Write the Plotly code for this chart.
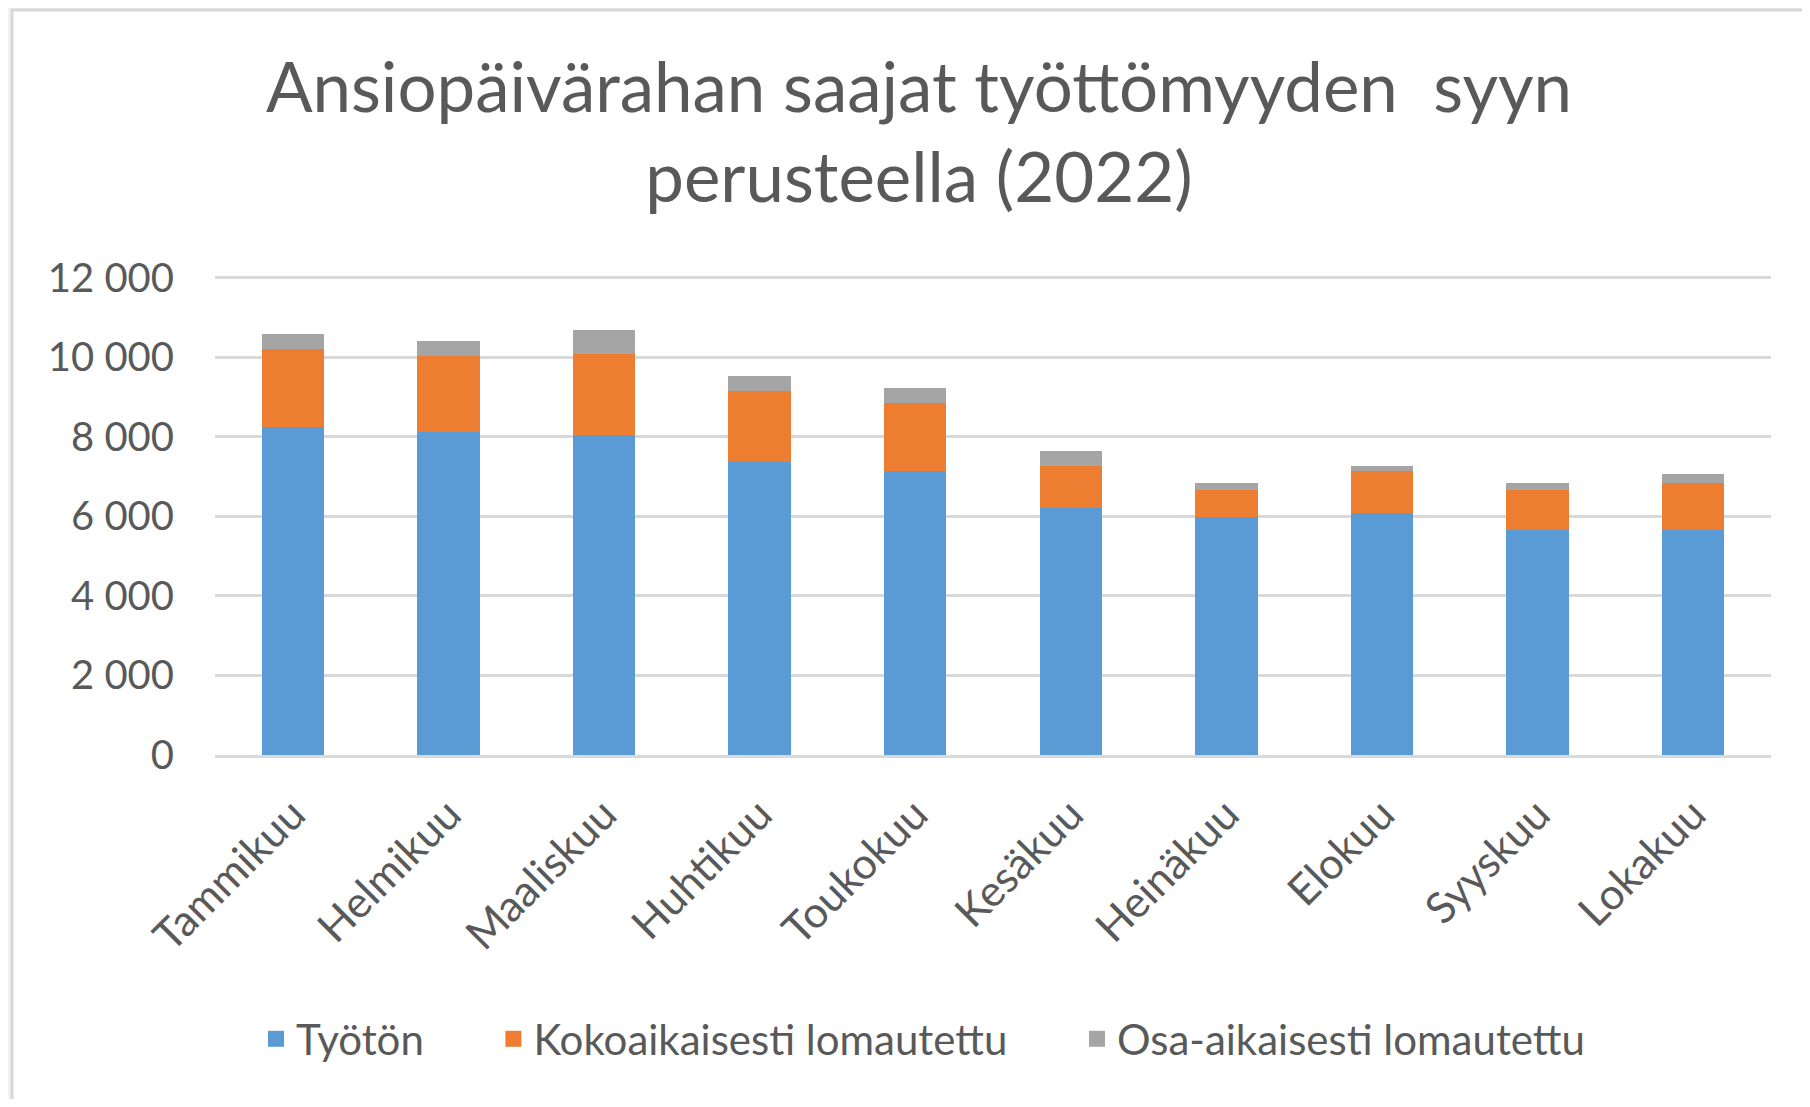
import plotly.graph_objects as go

months = ["Tammikuu", "Helmikuu", "Maaliskuu", "Huhtikuu", "Toukokuu",
          "Kesäkuu", "Heinäkuu", "Elokuu", "Syyskuu", "Lokakuu"]
tyoton = [8240, 8110, 8050, 7370, 7130, 6210, 5970, 6080, 5660, 5660]
kokoaikaisesti = [1970, 1920, 2040, 1790, 1720, 1050, 680, 1060, 990, 1170]
osa_aikaisesti = [370, 370, 600, 370, 380, 370, 180, 120, 180, 230]

series_names = ["Työtön", "Kokoaikaisesti lomautettu", "Osa-aikaisesti lomautettu"]
series_colors = ["#5B9BD5", "#ED7D31", "#A5A5A5"]
y_ticks = [0, 2000, 4000, 6000, 8000, 10000, 12000]

title_text = "Ansiopäivärahan saajat työttömyyden  syyn<br>perusteella (2022)"

FONT = "Lato, 'Open Sans', sans-serif"
TXT = "#595959"
PAD = "\u00a0" * 6  # extra spacing between legend entries

fig = go.Figure()
for i, (name, vals, col) in enumerate(zip(series_names,
                                          [tyoton, kokoaikaisesti, osa_aikaisesti],
                                          series_colors)):
    fig.add_trace(go.Bar(x=months, y=vals, name=name, legendgroup=name,
                         showlegend=False,
                         marker=dict(color=col, line=dict(width=0))))
for i, (name, col) in enumerate(zip(series_names, series_colors)):
    label = name + (PAD if i < len(series_names) - 1 else "")
    # legend-only entry with a larger square swatch
    fig.add_trace(go.Scatter(x=[None], y=[None], mode="markers", name=label,
                             legendgroup=name, showlegend=True,
                             marker=dict(symbol="square", size=22, color=col)))

# figure sits inside the page body (8px default margin)
W, H = 1794, 1091
L, R, T, B = 207, 31, 268, 344
pw, ph = W - L - R, H - T - B

# white chart frame on light grey page
fig.add_shape(type="rect", xref="paper", yref="paper",
              x0=(4 - L) / pw, x1=(W + 20 - L) / pw,
              y0=-(B + 20) / ph, y1=(ph + T - 2) / ph,
              fillcolor="white", line=dict(color="#d6d6d6", width=3), layer="below")

fig.update_layout(
    width=W, height=H,
    barmode="stack", bargap=0.6,
    paper_bgcolor="#f2f2f2", plot_bgcolor="rgba(0,0,0,0)",
    margin=dict(l=L, r=R, t=T, b=B, autoexpand=False),
    separators=", ",
    font=dict(family=FONT, color=TXT, size=40),
    title=dict(text=title_text, x=(911 - L) / pw, xref="paper", xanchor="center",
               y=1 - 104 / H, yanchor="top",
               font=dict(family=FONT, size=69, color=TXT)),
    showlegend=True,
    legend=dict(orientation="h", x=(248 - L) / pw, xanchor="left",
                y=(ph - (1031 - T)) / ph, yanchor="middle",
                font=dict(family=FONT, size=42, color=TXT),
                itemsizing="trace",
                bgcolor="rgba(0,0,0,0)", traceorder="normal"),
    hovermode=False,
)
fig.update_xaxes(showgrid=False, showline=True, linecolor="#D9D9D9", linewidth=3,
                 tickangle=-45, ticks="", ticklabelstandoff=14,
                 tickfont=dict(family=FONT, size=43, color=TXT))
fig.update_yaxes(range=[0, 12040], tickvals=y_ticks, tickformat=",d",
                 showgrid=True, gridcolor="#D9D9D9", gridwidth=3,
                 zeroline=False, showline=False, ticks="", ticklabelstandoff=40,
                 tickfont=dict(family=FONT, size=40, color=TXT))

fig.write_html("out.html")
